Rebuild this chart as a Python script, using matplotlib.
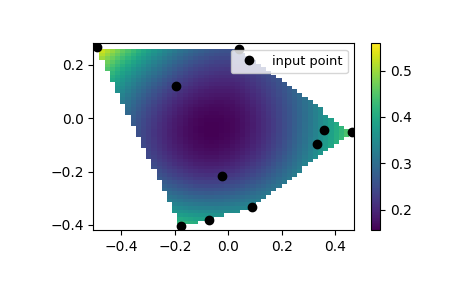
import numpy as np
import matplotlib
matplotlib.use("Agg")
import matplotlib.pyplot as plt
import matplotlib.tri as mtri
from matplotlib.ticker import MultipleLocator

# input points
x = np.array([-0.492, 0.0386, -0.1955, 0.3587, 0.462, 0.3325, -0.0224, 0.0897, -0.0735, -0.1756])
y = np.array([0.266, 0.260, 0.120, -0.045, -0.0525, -0.0975, -0.216, -0.334, -0.3825, -0.404])
z = np.hypot(x, y)

X = np.linspace(min(x), max(x))
Y = np.linspace(min(y), max(y))
X, Y = np.meshgrid(X, Y)
tri = mtri.Triangulation(x, y)
interp = mtri.CubicTriInterpolator(tri, z, kind='min_E')
Z = interp(X, Y)

plt.rcParams['font.size'] = 10
fig = plt.figure(figsize=(4.65, 2.88), dpi=100)
ax = fig.add_axes([93.3/465, 58/288, 261/465, 186.7/288])
cax = fig.add_axes([371/465, 58/288, 9/465, 186.7/288])
m = ax.pcolormesh(X, Y, Z, shading='auto')
ax.plot(x, y, "ok", label="input point")
ax.legend(loc='upper right', fontsize=9.3)
fig.colorbar(m, cax=cax)
ax.set_xlim(-0.505, 0.471)
ax.set_ylim(-0.419, 0.281)
ax.yaxis.set_major_locator(MultipleLocator(0.2))
fig.savefig("out.png", dpi=100)
